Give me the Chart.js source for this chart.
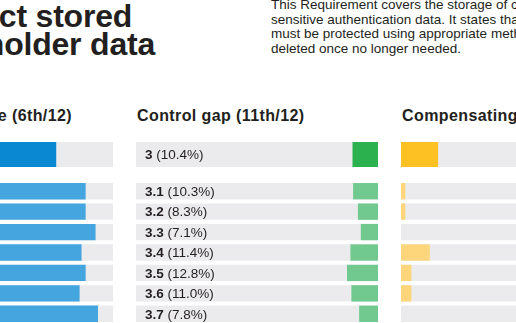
<!DOCTYPE html>
<html>
<head>
<meta charset="utf-8">
<script src="https://cdn.jsdelivr.net/npm/chart.js@4"></script>
<style>
  html, body { margin: 0; padding: 0; width: 516px; height: 323px; overflow: hidden; background: #ffffff; position: relative; }
  body { font-family: "Liberation Sans", Arial, sans-serif; color: #231f20; }
  .title { position: absolute; left: -82px; top: 2px; font-size: 32px; font-weight: bold; line-height: 28px; white-space: nowrap; letter-spacing: -0.2px; }
  .intro { position: absolute; left: 271px; top: -2px; font-size: 13.5px; line-height: 14.5px; white-space: nowrap; color: #231f20; }
  .head { position: absolute; top: 108px; font-size: 16px; font-weight: bold; line-height: 16px; white-space: nowrap; letter-spacing: 0.4px; }
  .panel { position: absolute; width: 242px; }
  canvas { position: absolute; left: 0; }
</style>
</head>
<body>
<div class="title">Protect stored<br>cardholder data</div>
<div class="intro">This Requirement covers the storage of cardholder data and<br>sensitive authentication data. It states that stored data<br>must be protected using appropriate methods and securely<br>deleted once no longer needed.</div>

<div class="head" id="h1" style="right:444px;">Full compliance (6th/12)</div>
<div class="head" id="h2" style="left:137px;">Control gap (11th/12)</div>
<div class="head" id="h3" style="left:402px;">Compensating control (2nd/12)</div>

<div class="panel" style="left:-129px; top:0; height:323px;">
  <canvas id="c1a" width="242" height="25" style="top:142px;"></canvas>
  <canvas id="c1b" width="242" height="143" style="top:181px;"></canvas>
</div>
<div class="panel" style="left:136px; top:0; height:323px;">
  <canvas id="c2a" width="242" height="25" style="top:142px;"></canvas>
  <canvas id="c2b" width="242" height="143" style="top:181px;"></canvas>
</div>
<div class="panel" style="left:401px; top:0; height:323px;">
  <canvas id="c3a" width="242" height="25" style="top:142px;"></canvas>
  <canvas id="c3b" width="242" height="143" style="top:181px;"></canvas>
</div>

<script>
// ---- data ----
const mainLabel = ['3'];
const subLabels = ['3.1', '3.2', '3.3', '3.4', '3.5', '3.6', '3.7'];
const fullMain = [76.4];
const fullSub = [88.7, 88.7, 92.8, 87.0, 88.7, 86.2, 93.8];
const gapMain = [10.4];
const gapSub = [10.3, 8.3, 7.1, 11.4, 12.8, 11.0, 7.8];
const compMain = [15.2];
const compSub = [1.8, 1.8, 0, 11.9, 4.3, 4.3, 0];
const scaleMax = 100;

const TRACK = '#ebebed';
const INK = '#231f20';

const labelPlugin = {
  id: 'rowLabels',
  afterDatasetsDraw(chart, args, opts) {
    if (!opts || !opts.show) return;
    const ctx = chart.ctx;
    const ys = chart.scales.y;
    const left = chart.chartArea.left;
    const labels = chart.data.labels;
    const vals = chart.data.datasets[0].data;
    ctx.save();
    ctx.fillStyle = INK;
    ctx.textBaseline = 'alphabetic';
    ctx.textAlign = 'left';
    labels.forEach((lab, i) => {
      const y = ys.getPixelForValue(i) + 4.8;
      ctx.font = 'bold 13.5px "Liberation Sans", Arial, sans-serif';
      ctx.fillText(lab, left + 9, y);
      const w = ctx.measureText(lab).width;
      ctx.font = '13.5px "Liberation Sans", Arial, sans-serif';
      ctx.fillText(' (' + vals[i].toFixed(1) + '%)', left + 9 + w, y);
    });
    ctx.restore();
  }
};

function makeChart(id, labels, values, color, reverse, showLabels, barPct) {
  return new Chart(document.getElementById(id), {
    type: 'bar',
    data: {
      labels: labels,
      datasets: [
        { data: values, backgroundColor: color, borderWidth: 0, grouped: false, order: 0,
          barPercentage: barPct, categoryPercentage: 1 },
        { data: labels.map(() => scaleMax), backgroundColor: TRACK, borderWidth: 0, grouped: false, order: 1,
          barPercentage: barPct, categoryPercentage: 1 }
      ]
    },
    options: {
      indexAxis: 'y',
      responsive: false,
      maintainAspectRatio: false,
      animation: false,
      devicePixelRatio: 1,
      layout: { padding: 0 },
      scales: {
        x: { display: false, min: 0, max: scaleMax, reverse: reverse },
        y: { display: false, offset: true }
      },
      plugins: {
        legend: { display: false },
        tooltip: { enabled: false },
        rowLabels: { show: showLabels }
      }
    },
    plugins: [labelPlugin]
  });
}

makeChart('c1a', mainLabel, fullMain, '#0a88d1', false, false, 1);
makeChart('c1b', subLabels, fullSub, '#45a6df', false, false, 0.8);
makeChart('c2a', mainLabel, gapMain, '#2bb24f', true, true, 1);
makeChart('c2b', subLabels, gapSub, '#72c98f', true, true, 0.8);
makeChart('c3a', mainLabel, compMain, '#fdc123', false, false, 1);
makeChart('c3b', subLabels, compSub, '#fdd67c', false, false, 0.8);
</script>
</body>
</html>
